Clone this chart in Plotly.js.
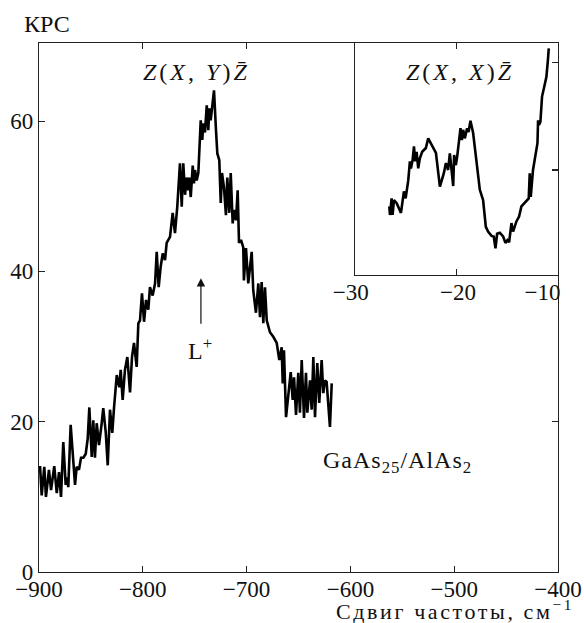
<!DOCTYPE html>
<html>
<head>
<meta charset="utf-8">
<script src="https://cdn.plot.ly/plotly-3.0.1.min.js"></script>
<style>
  html, body { margin: 0; padding: 0; background: #fff; }
  #chart { width: 584px; height: 623px; }
</style>
</head>
<body>
<div id="chart"></div>
<script>
// Raman spectrum of the GaAs25/AlAs2 superlattice, Z(X,Y)Z̄ geometry
const mainShift = [
  -899.0,-897.4,-894.9,-893.3,-890.4,-888.4,-885.3,-882.9,-880.7,-878.8,
  -876.6,-874.3,-873.0,-871.8,-869.5,-867.5,-865.3,-863.7,-861.5,-859.5,
  -857.3,-855.0,-853.1,-851.5,-849.2,-847.7,-846.1,-844.4,-842.2,-839.6,
  -838.1,-835.7,-833.8,-831.6,-829.4,-827.7,-825.1,-822.6,-821.3,-819.4,
  -817.2,-814.9,-812.3,-810.4,-808.5,-805.9,-804.3,-802.7,-800.8,-798.8,
  -796.9,-794.7,-793.1,-790.5,-788.2,-786.6,-784.7,-782.8,-780.8,-778.6,
  -777.0,-773.8,-771.2,-769.0,-766.8,-764.2,-762.5,-761.0,-759.3,-757.7,
  -756.2,-755.2,-753.8,-751.9,-750.7,-749.7,-748.1,-746.5,-744.2,-742.7,
  -741.7,-740.1,-738.4,-736.9,-735.9,-734.6,-733.0,-731.4,-729.5,-728.2,
  -726.3,-724.9,-723.7,-721.8,-719.9,-718.6,-716.7,-715.3,-713.4,-712.1,
  -710.2,-708.6,-707.3,-705.4,-703.2,-702.6,-700.6,-698.4,-695.1,-693.6,
  -691.0,-688.7,-687.1,-685.5,-683.9,-682.3,-680.6,-677.5,-674.3,-671.0,
  -668.5,-666.2,-665.2,-664.0,-662.0,-659.8,-657.5,-655.6,-654.3,-652.4,
  -650.2,-648.6,-646.9,-644.7,-642.8,-641.5,-638.9,-637.3,-635.7,-634.1,
  -631.9,-630.0,-627.7,-626.1,-624.5,-622.9,-621.3,-619.7,-618.0
];
const mainCounts = [
  14.1,10.2,14.0,10.0,13.6,10.9,14.1,10.5,13.3,10.0,
  17.3,11.6,12.6,11.3,19.6,16.2,11.6,14.0,13.6,15.2,
  15.2,15.7,17.7,21.9,15.3,20.2,15.2,19.8,16.9,19.8,
  21.8,18.6,14.2,21.6,18.5,21.9,26.2,24.6,26.9,22.9,
  26.9,28.6,23.9,28.6,30.5,27.3,33.1,33.5,37.1,33.3,
  36.2,34.9,37.9,36.8,38.4,42.6,37.9,40.6,42.4,41.5,
  43.8,44.6,47.8,45.1,48.6,54.4,48.6,54.4,50.2,52.5,
  50.8,52.5,49.9,54.1,51.7,53.5,52.1,53.1,60.1,57.5,
  59.7,58.5,62.1,58.8,61.7,60.1,62.4,64.1,58.8,55.7,
  54.8,49.1,53.1,51.2,47.5,52.5,47.8,53.1,46.4,48.2,
  46.8,50.8,43.8,44.2,43.2,38.8,43.1,38.4,42.6,37.5,
  34.5,38.4,33.9,38.6,33.1,37.9,33.5,31.9,31.3,30.5,
  28.2,29.9,25.1,29.5,20.6,23.8,26.6,22.9,25.9,20.9,
  26.5,21.2,28.2,20.5,26.5,21.2,25.5,21.6,28.6,20.6,
  27.8,22.5,28.2,23.8,25.5,25.3,21.9,19.3,25.1
];

// Low-frequency part, Z(X,X)Z̄ geometry (inset)
const insetShift = [
  -26.60,-26.53,-26.37,-26.27,-26.14,-25.87,-25.45,-25.16,-24.99,-24.73,
  -24.57,-24.47,-24.30,-24.17,-24.05,-23.91,-23.75,-23.59,-23.36,-23.00,
  -22.77,-22.44,-22.01,-21.62,-21.23,-21.03,-20.81,-20.64,-20.44,-20.31,
  -20.22,-20.05,-19.92,-19.59,-19.46,-19.33,-19.17,-18.94,-18.80,-18.61,
  -18.35,-17.96,-17.69,-17.37,-17.10,-16.88,-16.54,-16.32,-16.15,-15.99,
  -15.73,-15.40,-15.17,-14.97,-14.81,-14.58,-14.42,-14.09,-13.83,-13.60,
  -13.34,-13.10,-12.88,-12.78,-12.68,-12.46,-12.19,-12.02,-11.96,-11.87,
  -11.73,-11.57,-11.31,-11.14,-10.98,-10.91
];
const insetCounts = [
  13.2,11.6,14.7,11.6,14.4,13.8,12.0,16.0,14.7,18.1,
  21.6,20.3,21.9,24.4,21.6,23.4,20.3,22.2,23.4,24.1,
  25.9,24.7,23.2,16.9,19.4,21.3,20.0,23.1,19.4,17.0,
  22.8,20.9,22.5,27.8,25.6,27.5,25.9,27.8,27.1,29.2,
  26.9,20.0,16.3,14.4,9.4,8.5,7.7,7.6,5.4,8.1,
  8.3,7.6,6.4,6.9,6.5,10.1,8.5,10.4,11.3,13.2,
  13.8,14.4,14.7,19.4,15.0,20.0,22.8,25.0,29.3,28.4,
  29.0,33.7,35.9,37.4,40.8,42.7
];

// Tick values
const mainXTicks = [-900, -800, -700, -600, -500, -400];
const mainYTicks = [0, 20, 40, 60];
const topXTicks = [-800, -700];
const rightYTicks = [20];
const insetXTicks = [-30, -20, -10];
const insetXTickText = ['\u221230', '\u00a0\u00a0\u221220', '\u221210\u00a0\u00a0\u00a0\u00a0'];
const insetYTicks = [20, 40];

const FONT = 'Liberation Serif, Times New Roman, serif';
const INK = '#111';
const AXIS = '#222';
const SIZE = 23;

const baseAxis = {
  showgrid: false, zeroline: false, showline: true,
  linecolor: AXIS, linewidth: 1.2,
  ticks: 'inside', ticklen: 6, tickwidth: 1.2, tickcolor: AXIS,
  tickfont: { family: FONT, size: SIZE, color: INK },
  ticklabeloverflow: 'allow',
  fixedrange: true
};

const traces = [
  {
    x: mainShift, y: mainCounts, xaxis: 'x', yaxis: 'y',
    type: 'scatter', mode: 'lines',
    line: { color: '#000', width: 2.6 },
    hoverinfo: 'skip'
  },
  {
    x: insetShift, y: insetCounts, xaxis: 'x2', yaxis: 'y2',
    type: 'scatter', mode: 'lines',
    line: { color: '#000', width: 2.6 },
    hoverinfo: 'skip'
  },
  {
    // carries the top/right frame axes of the main panel
    x: [], y: [], xaxis: 'x3', yaxis: 'y3',
    type: 'scatter', mode: 'lines', hoverinfo: 'skip'
  }
];

const layout = {
  width: 584, height: 623,
  margin: { l: 39, r: 26, t: 43, b: 51 },
  paper_bgcolor: '#fff', plot_bgcolor: '#fff',
  showlegend: false,
  font: { family: FONT, size: SIZE, color: INK },
  xaxis: Object.assign({}, baseAxis, {
    domain: [0, 1], anchor: 'y', range: [-900, -400],
    tickvals: mainXTicks, mirror: false, ticklabelstandoff: -4
  }),
  yaxis: Object.assign({}, baseAxis, {
    domain: [0, 1], anchor: 'x', range: [0, 70.4],
    tickvals: mainYTicks, mirror: false
  }),
  xaxis3: Object.assign({}, baseAxis, {
    overlaying: 'x', anchor: 'y3', side: 'top', range: [-900, -400],
    tickvals: topXTicks, showticklabels: false
  }),
  yaxis3: Object.assign({}, baseAxis, {
    overlaying: 'y', anchor: 'x3', side: 'right', range: [0, 70.4],
    tickvals: rightYTicks, showticklabels: false
  }),
  xaxis2: Object.assign({}, baseAxis, {
    domain: [0.6083, 1], anchor: 'y2', range: [-30, -10],
    tickvals: insetXTicks, ticktext: insetXTickText, mirror: 'ticks',
    ticklabelshift: -4, ticklabelstandoff: -4
  }),
  yaxis2: Object.assign({}, baseAxis, {
    domain: [0.5614, 1], anchor: 'x2', range: [0.4, 43.7],
    tickvals: insetYTicks, showticklabels: false, side: 'right', mirror: true
  }),
  annotations: [
    {
      text: 'КРС', xref: 'paper', yref: 'paper', x: -0.033, y: 1.036,
      xanchor: 'left', yanchor: 'middle', showarrow: false,
      font: { family: FONT, size: 24, color: INK }
    },
    {
      text: '<span style="letter-spacing:3px"><i>Z</i>(<i>X</i>,\u00a0<i>Y</i>)<i>Z\u0304</i></span>',
      xref: 'paper', yref: 'paper',
      x: 0.3044, y: 0.945, xanchor: 'center', yanchor: 'middle', showarrow: false,
      font: { family: FONT, size: 24, color: INK }
    },
    {
      text: '<span style="letter-spacing:3px"><i>Z</i>(<i>X</i>,\u00a0<i>X</i>)<i>Z\u0304</i></span>',
      xref: 'paper', yref: 'paper',
      x: 0.811, y: 0.945, xanchor: 'center', yanchor: 'middle', showarrow: false,
      font: { family: FONT, size: 24, color: INK }
    },
    {
      // L+ mode marker
      text: '', xref: 'x', yref: 'y', x: -744, y: 39.1,
      ax: 0, ay: 47, showarrow: true,
      arrowhead: 2, arrowsize: 1.4, arrowwidth: 1.2, arrowcolor: INK
    },
    {
      text: 'L<sup>+</sup>', xref: 'x', yref: 'y', x: -745, y: 29.7,
      xanchor: 'center', yanchor: 'middle', showarrow: false,
      font: { family: FONT, size: 24, color: INK }
    },
    {
      text: '<span style="letter-spacing:1px">GaAs<sub>25</sub>/AlAs<sub>2</sub></span>',
      xref: 'paper', yref: 'paper',
      x: 0.69, y: 0.208, xanchor: 'center', yanchor: 'middle', showarrow: false,
      font: { family: FONT, size: 24, color: INK }
    },
    {
      text: '<span style="letter-spacing:2.6px">Сдвиг частоты, см<sup>\u22121</sup></span>',
      xref: 'paper', yref: 'paper',
      x: 1.035, y: -0.071, xanchor: 'right', yanchor: 'middle', showarrow: false,
      font: { family: FONT, size: 22, color: INK }
    }
  ]
};

Plotly.newPlot('chart', traces, layout, { displayModeBar: false, staticPlot: true });
</script>
</body>
</html>
